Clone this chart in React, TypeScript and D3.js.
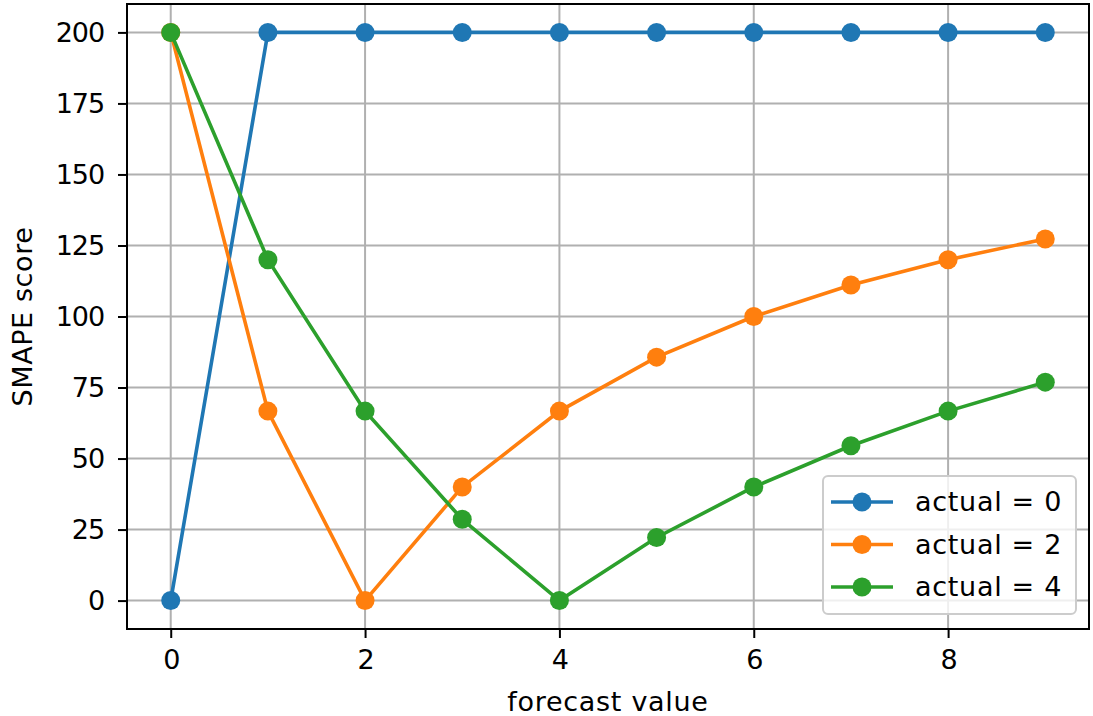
import * as d3 from 'd3';
import { useEffect, useRef } from 'react';

// forecast values on the x axis
const forecast = [0, 1, 2, 3, 4, 5, 6, 7, 8, 9];
// SMAPE scores
const actual0 = [0, 200, 200, 200, 200, 200, 200, 200, 200, 200];
const actual2 = [200, 66.7, 0, 40, 66.7, 85.7, 100, 111.1, 120, 127.3];
const actual4 = [200, 120, 66.7, 28.6, 0, 22.2, 40, 54.5, 66.7, 76.9];
const seriesNames = ['actual = 0', 'actual = 2', 'actual = 4'];
const xTicks = [0, 2, 4, 6, 8];
const yTicks = [0, 25, 50, 75, 100, 125, 150, 175, 200];

export default function App() {
    const ref = useRef<SVGSVGElement>(null);

    useEffect(() => {
        drawChart();
    }, []);

    function drawChart() {
        const svg = d3.select(ref.current);
        svg.selectAll('*').remove();

        const left = 127, right = 1089, top = 4, bottom = 629;
        const font = 'DejaVu Sans, sans-serif';
        const colors = ['#1f77b4', '#ff7f0e', '#2ca02c'];
        const series = [actual0, actual2, actual4];

        const x = d3.scaleLinear().domain([-0.45, 9.45]).range([left, right]);
        const y = d3.scaleLinear().domain([-10, 210]).range([bottom, top]);

        // grid
        const grid = svg.append('g').attr('stroke', '#b0b0b0').attr('stroke-width', 2);
        xTicks.forEach(t => {
            grid.append('line').attr('x1', x(t)).attr('x2', x(t)).attr('y1', top).attr('y2', bottom);
        });
        yTicks.forEach(t => {
            grid.append('line').attr('x1', left).attr('x2', right).attr('y1', y(t)).attr('y2', y(t));
        });

        // axes
        const xAxis = svg.append('g')
            .attr('transform', 'translate(0,' + bottom + ')')
            .call(d3.axisBottom(x).tickValues(xTicks).tickSize(9).tickPadding(12).tickFormat(d3.format('d')));
        const yAxis = svg.append('g')
            .attr('transform', 'translate(' + left + ',0)')
            .call(d3.axisLeft(y).tickValues(yTicks).tickSize(9).tickPadding(14).tickFormat(d3.format('d')));
        [xAxis, yAxis].forEach(a => {
            a.select('.domain').remove();
            a.selectAll('.tick line').attr('stroke', '#000').attr('stroke-width', 2);
            a.selectAll('.tick text')
                .attr('fill', '#000')
                .style('font-family', font)
                .style('font-size', '27px')
                .style('letter-spacing', '-1.1px');
        });

        // lines and markers
        const line = d3.line<number>()
            .x((d, i) => x(forecast[i]))
            .y(d => y(d));
        series.forEach((s, k) => {
            svg.append('path')
                .datum(s)
                .attr('d', line)
                .attr('fill', 'none')
                .attr('stroke', colors[k])
                .attr('stroke-width', 3.6);
            svg.selectAll('.m' + k)
                .data(s)
                .enter()
                .append('circle')
                .attr('cx', (d, i) => x(forecast[i]))
                .attr('cy', d => y(d))
                .attr('r', 9.5)
                .attr('fill', colors[k]);
        });

        // frame
        svg.append('rect')
            .attr('x', left).attr('y', top)
            .attr('width', right - left).attr('height', bottom - top)
            .attr('fill', 'none').attr('stroke', '#000').attr('stroke-width', 2);

        // axis labels
        svg.append('text')
            .attr('x', (left + right) / 2).attr('y', 711)
            .attr('text-anchor', 'middle')
            .style('font-family', font).style('font-size', '27px')
            .style('letter-spacing', '0.7px')
            .text('forecast value');
        svg.append('text')
            .attr('transform', 'translate(32,' + (top + bottom) / 2 + ')rotate(-90)')
            .attr('text-anchor', 'middle')
            .style('font-family', font).style('font-size', '27px')
            .style('letter-spacing', '0.6px')
            .text('SMAPE score');

        // legend
        const lg = svg.append('g');
        lg.append('rect')
            .attr('x', 823).attr('y', 476).attr('width', 253).attr('height', 138)
            .attr('rx', 5)
            .attr('fill', 'white').attr('fill-opacity', 0.8)
            .attr('stroke', '#cccccc').attr('stroke-width', 2);
        seriesNames.forEach((name, k) => {
            const yy = 502 + k * 42.5;
            lg.append('line')
                .attr('x1', 831).attr('x2', 893).attr('y1', yy).attr('y2', yy)
                .attr('stroke', colors[k]).attr('stroke-width', 3.6);
            lg.append('circle').attr('cx', 862).attr('cy', yy).attr('r', 9.5).attr('fill', colors[k]);
            lg.append('text')
                .attr('x', 915).attr('y', yy).attr('dy', '0.35em')
                .style('font-family', font).style('font-size', '27px')
                .style('letter-spacing', '0.7px')
                .text(name);
        });
    }

    return (
        <svg ref={ref} width={1093} height={716} style={{ position: 'absolute', left: 0, top: 0, background: 'white' }} />
    );
}
